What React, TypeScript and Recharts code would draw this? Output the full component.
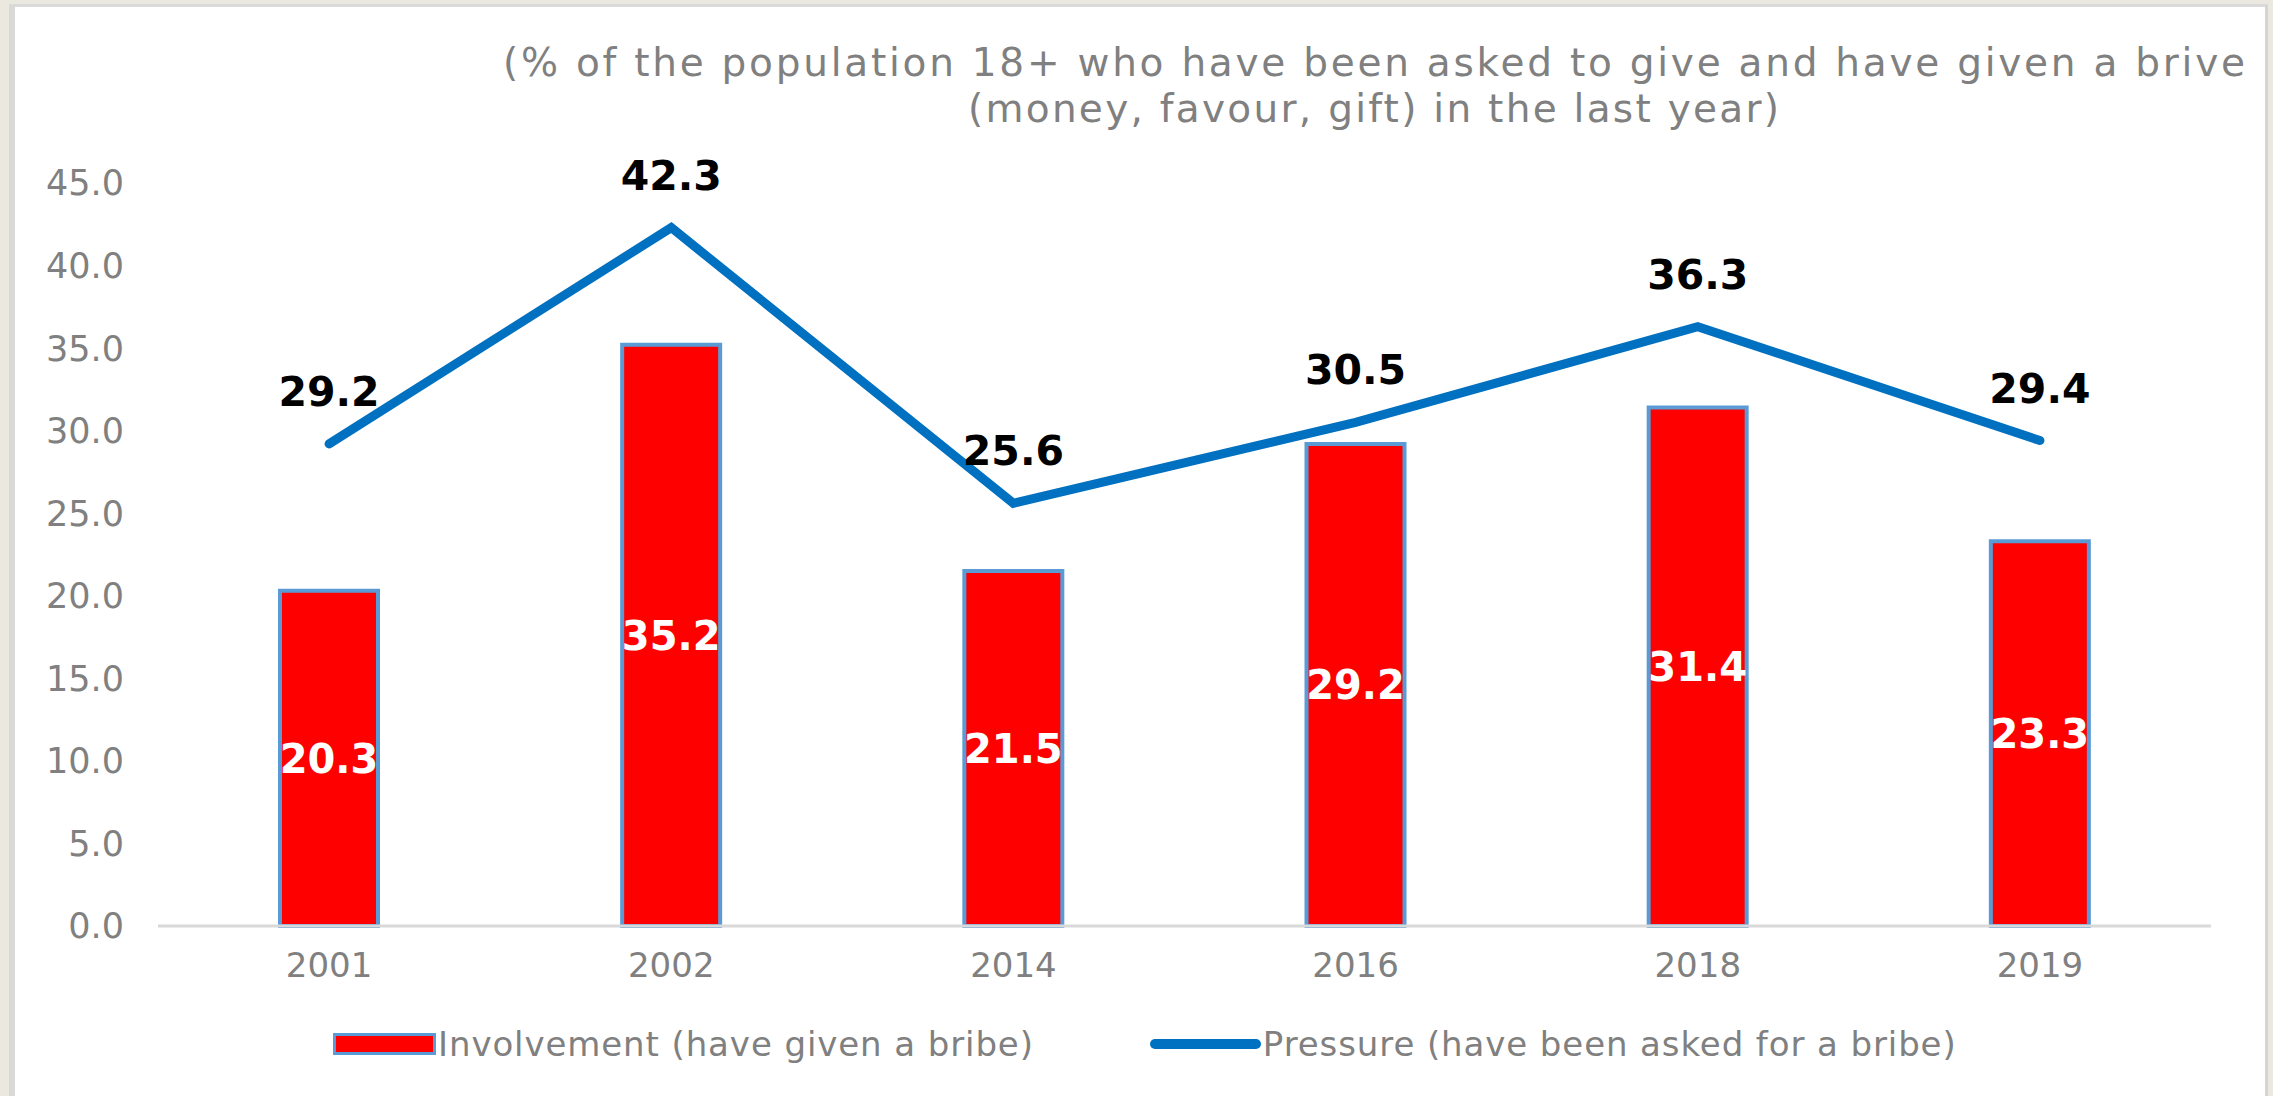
import {
  Bar,
  ComposedChart,
  LabelList,
  Legend,
  Line,
  XAxis,
  YAxis,
} from "recharts";

const YEARS = ["2001", "2002", "2014", "2016", "2018", "2019"];
const INVOLVEMENT = [20.3, 35.2, 21.5, 29.2, 31.4, 23.3];
const PRESSURE = [29.2, 42.3, 25.6, 30.5, 36.3, 29.4];
const Y_TICKS = [0, 5, 10, 15, 20, 25, 30, 35, 40, 45];
const TITLE_LINES = [
  "(% of the population 18+ who have been asked to give and have given a brive",
  "(money, favour, gift) in the last year)",
];
const INVOLVEMENT_NAME = "Involvement (have given a bribe)";
const PRESSURE_NAME = "Pressure (have been asked for a bribe)";

const W = 2273;
const H = 1096;
const FONT = "'DejaVu Sans', 'Liberation Sans', Arial, sans-serif";
const GREY = "#808080";
const RED = "#ff0000";
const BAR_EDGE = "#5b9bd5";
const BLUE = "#0070c0";

// where each subtitle line starts and how wide it runs
const TITLE_BOX = [
  { x: 503, y: 76, len: 1742 },
  { x: 968, y: 122, len: 811 },
];

const data = YEARS.map((year, i) => ({
  year,
  involvement: INVOLVEMENT[i],
  pressure: PRESSURE[i],
}));

const fmt = (v: number) => Number(v).toFixed(1);

function LegendContent() {
  return (
    <div
      style={{
        display: "flex",
        alignItems: "center",
        fontFamily: FONT,
        fontSize: 34,
        lineHeight: "40px",
        color: GREY,
        letterSpacing: 0.9,
        whiteSpace: "nowrap",
      }}
    >
      <span
        style={{
          display: "inline-block",
          width: 97,
          height: 16,
          background: RED,
          border: `3px solid ${BAR_EDGE}`,
        }}
      />
      <span style={{ marginLeft: 2 }}>{INVOLVEMENT_NAME}</span>
      <span
        style={{
          display: "inline-block",
          width: 111,
          height: 10,
          borderRadius: 5,
          background: BLUE,
          marginLeft: 116,
        }}
      />
      <span style={{ marginLeft: 2 }}>{PRESSURE_NAME}</span>
    </div>
  );
}

export default function App() {
  return (
    <div
      style={{
        position: "absolute",
        left: 0,
        top: 0,
        width: W,
        height: H,
        background: "#ebe8df",
        overflow: "hidden",
      }}
    >
      {/* white panel inside the frame */}
      <div
        style={{
          position: "absolute",
          left: 9,
          top: 4,
          width: 2259,
          height: 1092,
          boxSizing: "border-box",
          background: "#fff",
          borderLeft: "6px solid #d9d9d7",
          borderTop: "3px solid #dadada",
          borderRight: "3px solid #d4d4d4",
        }}
      />

      {/* subtitle */}
      <svg
        width={W}
        height={140}
        style={{ position: "absolute", left: 0, top: 0 }}
      >
        {TITLE_LINES.map((line, i) => (
          <text
            key={i}
            x={TITLE_BOX[i].x}
            y={TITLE_BOX[i].y}
            textLength={TITLE_BOX[i].len}
            lengthAdjust="spacing"
            fontFamily={FONT}
            fontSize={39}
            fill={GREY}
          >
            {line}
          </text>
        ))}
      </svg>

      <div style={{ position: "absolute", left: 0, top: 0 }}>
        <ComposedChart
          width={W}
          height={H}
          data={data}
          margin={{ top: 183, right: 62, bottom: 0, left: 0 }}
        >
          <XAxis
            dataKey="year"
            height={170}
            axisLine={{ stroke: "#d9d9d9", strokeWidth: 3 }}
            tickLine={false}
            tickMargin={21}
            tick={{ fill: GREY, fontSize: 34, fontFamily: FONT }}
          />
          <YAxis
            width={158}
            domain={[0, 45]}
            ticks={Y_TICKS}
            interval={0}
            axisLine={false}
            tickLine={false}
            tickMargin={28}
            tickFormatter={fmt}
            tick={{ fill: GREY, fontSize: 35, fontFamily: FONT }}
          />
          <Bar
            dataKey="involvement"
            name={INVOLVEMENT_NAME}
            fill={RED}
            stroke={BAR_EDGE}
            strokeWidth={4}
            barSize={98}
            isAnimationActive={false}
          >
            <LabelList
              dataKey="involvement"
              position="center"
              formatter={fmt}
              fill="#ffffff"
              fontSize={40}
              fontWeight="bold"
              fontFamily={FONT}
            />
          </Bar>
          <Line
            type="linear"
            dataKey="pressure"
            name={PRESSURE_NAME}
            stroke={BLUE}
            strokeWidth={9}
            strokeLinecap="round"
            dot={false}
            activeDot={false}
            isAnimationActive={false}
          >
            <LabelList
              dataKey="pressure"
              position="top"
              offset={38}
              formatter={fmt}
              fill="#000000"
              fontSize={41}
              fontWeight="bold"
              fontFamily={FONT}
            />
          </Line>
          <Legend
            layout="horizontal"
            verticalAlign="middle"
            align="center"
            content={<LegendContent />}
            wrapperStyle={{
              position: "absolute",
              left: 333,
              top: 1024,
              width: 1700,
              height: 40,
            }}
          />
        </ComposedChart>
      </div>
    </div>
  );
}
